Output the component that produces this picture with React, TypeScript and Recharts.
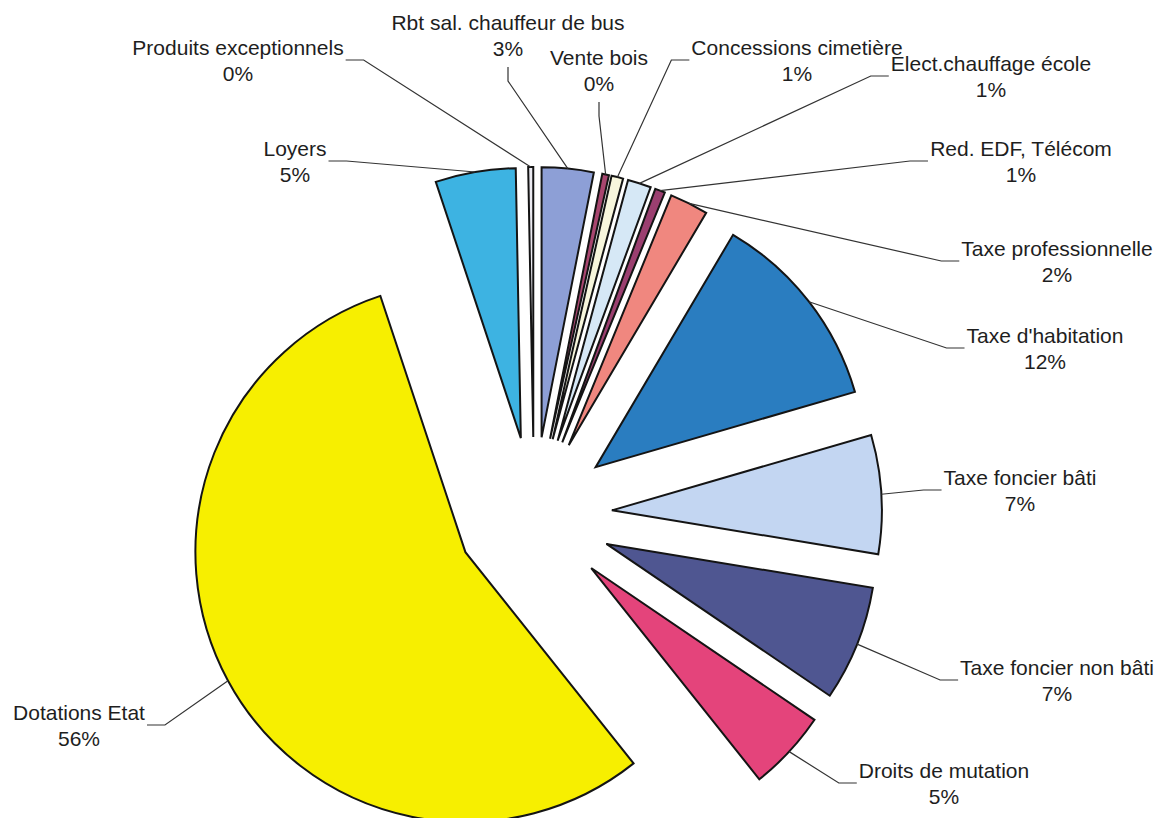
import React from "react";
import { PieChart, Pie, Cell, Sector } from "recharts";

// recettes de fonctionnement, en % du total
const categories = [
  "Rbt sal. chauffeur de bus",
  "Vente bois",
  "Concessions cimetière",
  "Elect.chauffage école",
  "Red. EDF, Télécom",
  "Taxe professionnelle",
  "Taxe d'habitation",
  "Taxe foncier bâti",
  "Taxe foncier non bâti",
  "Droits de mutation",
  "Dotations Etat",
  "Loyers",
  "Produits exceptionnels",
];
const shares = [3.1, 0.4, 0.7, 1.4, 0.6, 2.3, 12.0, 7.1, 6.9, 4.8, 55.6, 4.8, 0.3];

const colors = [
  "#8d9fd6", "#a8466f", "#f7f6dc", "#d6e8f6", "#9b3f70", "#f0877f", "#2a7dc0",
  "#c3d6f2", "#4f5691", "#e4447b", "#f7ef00", "#3db3e2", "#ecebf2",
];

// label block centre + side where the leader line attaches
const labelSpots: [number, number, string][] = [
  [508, 35, "bottom"],
  [599, 70, "bottom"],
  [797, 60, "left"],
  [991, 76, "left"],
  [1021, 161, "left"],
  [1057, 261, "left"],
  [1045, 348, "left"],
  [1020, 490, "left"],
  [1057, 680, "left"],
  [944, 783, "left"],
  [79, 725, "right"],
  [295, 161, "right"],
  [238, 60, "right"],
];

const data = categories.map((name, i) => ({ name, value: shares[i] }));

const RAD = Math.PI / 180;
const EXPLODE = 78;
const FONT = "21px 'Liberation Sans', Arial, sans-serif";

let ctx: CanvasRenderingContext2D | null = null;
function textWidth(s: string) {
  if (!ctx) ctx = document.createElement("canvas").getContext("2d");
  if (!ctx) return s.length * 10;
  ctx.font = FONT;
  return ctx.measureText(s).width;
}

function ExplodedSlice(props: any) {
  const { cx, cy, midAngle } = props;
  const dx = EXPLODE * Math.cos(-midAngle * RAD);
  const dy = EXPLODE * Math.sin(-midAngle * RAD);
  return <Sector {...props} cx={cx + dx} cy={cy + dy} />;
}

function SliceLabel(props: any) {
  const { cx, cy, midAngle, outerRadius, percent, index } = props;
  const [x, y, side] = labelSpots[index];
  const name = categories[index];
  const pct = `${Math.round(percent * 100)}%`;
  const r = outerRadius + EXPLODE;
  const ax = cx + r * Math.cos(-midAngle * RAD);
  const ay = cy + r * Math.sin(-midAngle * RAD);
  const half = Math.max(textWidth(name), textWidth(pct)) / 2;

  let pts: number[][];
  if (side === "left") {
    pts = [[x - half - 2, y], [x - half - 20, y], [ax, ay]];
  } else if (side === "right") {
    pts = [[x + half + 2, y], [x + half + 20, y], [ax, ay]];
  } else {
    pts = [[x, y + 32], [x, y + 46], [ax, ay]];
  }

  return (
    <g>
      <polyline
        points={pts.map((p) => p.join(",")).join(" ")}
        fill="none"
        stroke="#333"
        strokeWidth={1.2}
      />
      <text
        x={x}
        y={y}
        textAnchor="middle"
        fontFamily="'Liberation Sans', Arial, sans-serif"
        fontSize={21}
        fill="#1e1e1e"
      >
        <tspan x={x} y={y - 13} dominantBaseline="central">{name}</tspan>
        <tspan x={x} y={y + 13} dominantBaseline="central">{pct}</tspan>
      </text>
    </g>
  );
}

export default function App() {
  return (
    <div style={{ position: "absolute", left: 0, top: 0, background: "#fff" }}>
      <PieChart width={1161} height={818} margin={{ top: 0, right: 0, bottom: 0, left: 0 }}>
        <Pie
          data={data}
          dataKey="value"
          nameKey="name"
          cx={534}
          cy={515}
          outerRadius={270}
          startAngle={90}
          endAngle={-270}
          stroke="#141414"
          strokeWidth={2}
          shape={ExplodedSlice}
          activeShape={ExplodedSlice}
          inactiveShape={ExplodedSlice}
          label={SliceLabel}
          labelLine={false}
          isAnimationActive={false}
        >
          {data.map((d, i) => (
            <Cell key={d.name} fill={colors[i]} />
          ))}
        </Pie>
      </PieChart>
    </div>
  );
}
